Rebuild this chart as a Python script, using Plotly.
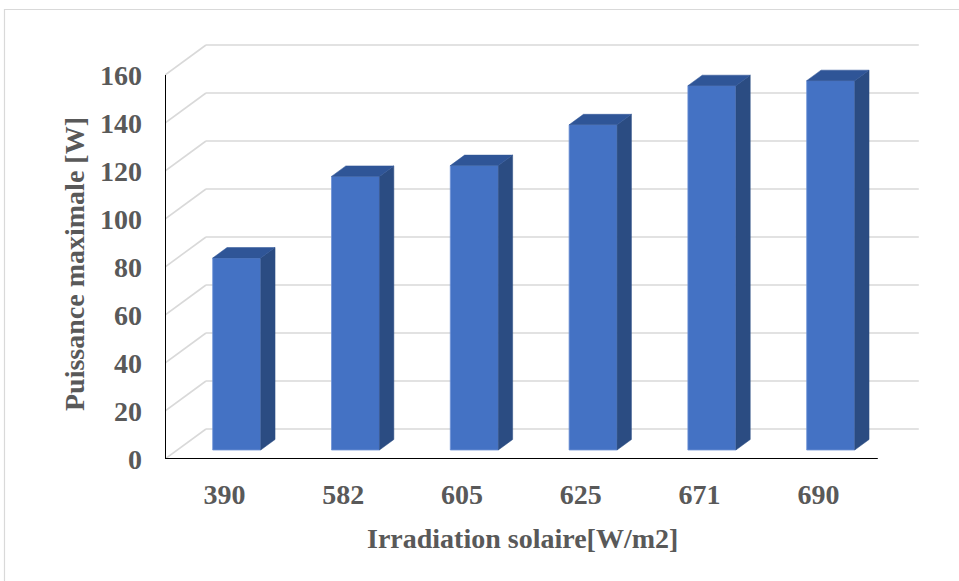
import plotly.graph_objects as go

# Data
categories = ["390", "582", "605", "625", "671", "690"]
puissance = [80, 114, 118.5, 135.5, 151.8, 153.9]
y_ticks = [0, 20, 40, 60, 80, 100, 120, 140, 160]

# Oblique 3D projection: full depth vector in data units (x in category slots, y in W)
DEPTH_X = 0.345
DEPTH_Y = 12.5
BAR_D0, BAR_D1 = 0.30, 0.65      # bar front / back depth fractions
BAR_W = 0.404                    # bar width in category slots

FRONT = "#4472C4"
SIDE = "#2B4C82"
TOP = "#2F5597"
GRID = "#D9D9D9"
TXT = "#595959"
FONT = "Liberation Serif"
FS = 28

n = len(categories)
X_MAX = 755 / 118.8
Y_MAX = 419 / 2.4

def proj(x, v, d):
    return x + DEPTH_X * d, v + DEPTH_Y * d

fig = go.Figure()

# Side and top faces of each column
for i, v in enumerate(puissance):
    cx = i + 0.5
    xl = cx - BAR_W / 2
    xr = cx + BAR_W / 2
    # right side face
    pts = [proj(xr, 0, BAR_D0), proj(xr, 0, BAR_D1), proj(xr, v, BAR_D1), proj(xr, v, BAR_D0)]
    fig.add_trace(go.Scatter(
        x=[p[0] for p in pts] + [pts[0][0]], y=[p[1] for p in pts] + [pts[0][1]],
        fill="toself", fillcolor=SIDE, mode="lines", line=dict(color=SIDE, width=0.5),
        hoverinfo="skip", showlegend=False))
    # top face
    pts = [proj(xl, v, BAR_D0), proj(xr, v, BAR_D0), proj(xr, v, BAR_D1), proj(xl, v, BAR_D1)]
    fig.add_trace(go.Scatter(
        x=[p[0] for p in pts] + [pts[0][0]], y=[p[1] for p in pts] + [pts[0][1]],
        fill="toself", fillcolor=TOP, mode="lines", line=dict(color=TOP, width=0.5),
        hoverinfo="skip", showlegend=False))

# Front faces of the columns
fig.add_trace(go.Bar(
    x=[i + 0.5 + DEPTH_X * BAR_D0 for i in range(n)],
    y=puissance,
    base=[DEPTH_Y * BAR_D0] * n,
    width=BAR_W,
    marker=dict(color=FRONT, line=dict(color="#6E92D6", width=0.8)),
    hovertemplate="%{customdata}: %{y} W<extra></extra>",
    customdata=categories,
    showlegend=False,
))

shapes = []
# Side-wall and back-wall gridlines
for g in y_ticks:
    bx, by = proj(0, g, 1)
    shapes.append(dict(type="line", xref="x", yref="y", x0=0, y0=g, x1=bx, y1=by,
                       line=dict(color=GRID, width=1.6), layer="below"))
    ex, _ = proj(n, g, 1)
    shapes.append(dict(type="line", xref="x", yref="y", x0=bx, y0=by, x1=ex, y1=by,
                       line=dict(color=GRID, width=1.6), layer="below"))
# Front axis lines
shapes.append(dict(type="line", xref="x", yref="y", x0=0, y0=0, x1=0, y1=y_ticks[-1],
                   line=dict(color="black", width=2), layer="above"))
shapes.append(dict(type="line", xref="x", yref="y", x0=0, y0=0, x1=n, y1=0,
                   line=dict(color="black", width=2), layer="above"))
# Chart area border
shapes.append(dict(type="rect", xref="paper", yref="paper",
                   x0=(4.5 - 165) / 755, x1=(965 - 165) / 755,
                   y0=(459 - 590) / 419, y1=(459 - 9.5) / 419,
                   line=dict(color="#D9D9D9", width=1.2), fillcolor="rgba(0,0,0,0)", layer="below"))

fig.update_layout(
    width=959, height=581,
    margin=dict(l=165, r=39, t=40, b=122),
    paper_bgcolor="white", plot_bgcolor="white",
    shapes=shapes,
    font=dict(family=FONT, color=TXT),
    xaxis=dict(range=[0, X_MAX], showgrid=False, zeroline=False, showline=False,
               tickmode="array", tickvals=[i + 0.5 for i in range(n)], ticktext=categories,
               ticks="", ticklabelstandoff=16,
               tickfont=dict(family=FONT, size=FS, color=TXT, weight="bold")),
    yaxis=dict(range=[0, Y_MAX], showgrid=False, zeroline=False, showline=False,
               tickmode="array", tickvals=y_ticks, ticktext=[str(t) for t in y_ticks],
               ticks="", ticklabelstandoff=22,
               tickfont=dict(family=FONT, size=FS, color=TXT, weight="bold")),
    annotations=[
        dict(text="Irradiation solaire[W/m2]", xref="paper", yref="paper",
             x=(522 - 165) / 755, y=(459 - 538) / 419, showarrow=False,
             xanchor="center", yanchor="middle",
             font=dict(family=FONT, size=FS, color=TXT, weight="bold")),
        dict(text="Puissance maximale [W]", xref="paper", yref="paper",
             x=(74 - 165) / 755, y=(459 - 264) / 419, showarrow=False, textangle=-90,
             xanchor="center", yanchor="middle",
             font=dict(family=FONT, size=FS, color=TXT, weight="bold")),
    ],
)

fig.write_html("out.html")
